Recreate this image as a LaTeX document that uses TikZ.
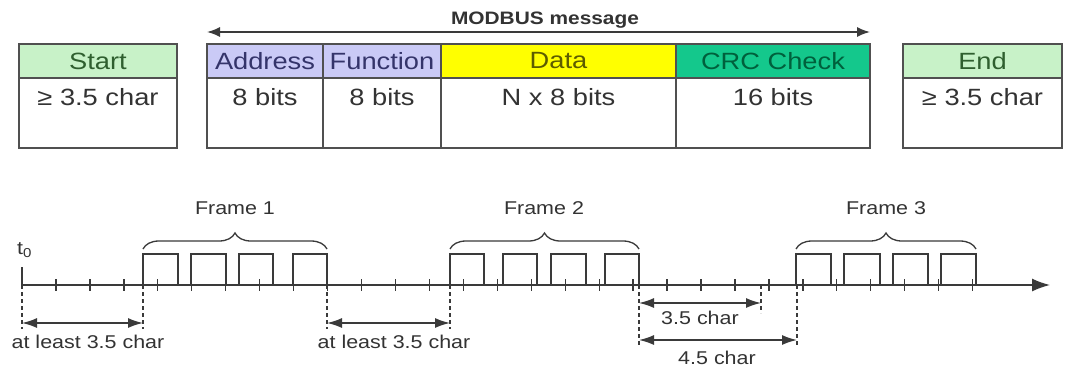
\documentclass[tikz,border=0pt]{standalone}
\usepackage{fontspec}
\setmainfont{Liberation Sans}[FakeStretch=1.16]
\usetikzlibrary{arrows.meta,decorations.pathreplacing}
\definecolor{boxgray}{HTML}{505050}
\definecolor{linegray}{HTML}{3A3A3A}
\definecolor{txt}{HTML}{333333}
\definecolor{mint}{HTML}{C8F2C8}
\definecolor{lav}{HTML}{CACAF6}
\definecolor{yel}{HTML}{FFFF00}
\definecolor{teal}{HTML}{14C88C}
\definecolor{tmint}{HTML}{2F5F2F}
\definecolor{tlav}{HTML}{34346A}
\definecolor{tyel}{HTML}{5C5C00}
\definecolor{tteal}{HTML}{00603C}
\tikzset{
  hdr/.style={draw=boxgray, line width=1.6pt, minimum height=34pt, inner sep=0pt,
    font=\fontsize{23.5}{28}\selectfont},
  bodycell/.style={draw=boxgray, line width=1.6pt, minimum height=70pt, inner sep=0pt},
  bodytxt/.style={text=txt, inner sep=0pt, font=\fontsize{23.5}{28}\selectfont},
  lbl/.style={text=txt, inner sep=0pt, font=\fontsize{18.5}{22}\selectfont},
  sig/.style={draw=linegray, line width=1.5pt},
  tick/.style={draw=linegray, line width=1.3pt},
  dashline/.style={draw=linegray, line width=1.8pt, dash pattern=on 4pt off 3pt},
  dim/.style={draw=linegray, line width=1.5pt, {Latex[length=15pt,width=10pt]}-{Latex[length=15pt,width=10pt]}},
  bracestyle/.style={draw=linegray, line width=1.3pt,
    decorate, decoration={brace, amplitude=16pt, aspect=0.5}}
}
\begin{document}
\begin{tikzpicture}[x=1pt,y=-1pt]
\useasboundingbox (0,0) rectangle (1070,372);
\fill[white] (0,0) rectangle (1070,372);

% ---- top frame format ----
\node[hdr, fill=mint, text=tmint, minimum width=158pt] (startH) at (98,61) {Start};
\node[bodycell, minimum width=158pt] (startB) at (98,113) {};
\node[bodytxt] (startT) at (98,97) {≥ 3.5 char};

\node[hdr, fill=lav, text=tlav, minimum width=116pt] (addrH) at (265,61) {Address};
\node[bodycell, minimum width=116pt] (addrB) at (265,113) {};
\node[bodytxt] (addrT) at (265,97) {8 bits};

\node[hdr, fill=lav, text=tlav, minimum width=118pt] (funcH) at (382,61) {Function};
\node[bodycell, minimum width=118pt] (funcB) at (382,113) {};
\node[bodytxt] (funcT) at (382,97) {8 bits};

\node[hdr, fill=yel, text=tyel, minimum width=235pt] (dataH) at (558.5,61) {Data};
\node[bodycell, minimum width=235pt] (dataB) at (558.5,113) {};
\node[bodytxt] (dataT) at (558.5,97) {N x 8 bits};

\node[hdr, fill=teal, text=tteal, minimum width=194pt] (crcH) at (773,61) {CRC Check};
\node[bodycell, minimum width=194pt] (crcB) at (773,113) {};
\node[bodytxt] (crcT) at (773,97) {16 bits};

\node[hdr, fill=mint, text=tmint, minimum width=159pt] (endH) at (982.5,61) {End};
\node[bodycell, minimum width=159pt] (endB) at (982.5,113) {};
\node[bodytxt] (endT) at (982.5,97) {≥ 3.5 char};

\coordinate (msgL) at (207,32);
\coordinate (msgR) at (870,32);
\draw[draw=linegray, line width=1.6pt, {Latex[length=13pt,width=10pt]}-{Latex[length=13pt,width=10pt]}] (msgL) -- (msgR);
\node[text=txt, inner sep=0pt, font=\bfseries\fontsize{18}{22}\selectfont] (msg) at (545,20) {MODBUS message};

% ---- timeline ----
\coordinate (t0) at (22,285);
\coordinate (t0top) at (22,267);
\coordinate (axend) at (1050,285);
\draw[sig] (t0top) -- (t0);
\draw[sig, -{Latex[length=18pt,width=13pt]}] (t0) -- (axend);
\node[lbl, anchor=south west] (t0lbl) at (17,258) {t\textsubscript{0}};

\foreach \k in {1,...,28} {
  \draw[tick] ({22+33.95*\k},279) -- ({22+33.95*\k},291);
}

% pulses
\foreach \a/\b in {143/178,191/226,239/273,293/327,
                   450/484,503/537,551/586,605/639,
                   796/831,844/880,893/928,941/976} {
  \draw[sig] (\a,285) -- (\a,254) -- (\b,254) -- (\b,285);
}

% braces and frame labels
\draw[bracestyle] (143,249) -- (327,249);
\draw[bracestyle] (450,249) -- (639,249);
\draw[bracestyle] (796,249) -- (976,249);
\node[lbl] (f1) at (235,208) {Frame 1};
\node[lbl] (f2) at (544,208) {Frame 2};
\node[lbl] (f3) at (886,208) {Frame 3};

% dashed guide lines
\draw[dashline] (22,285) -- (22,329);
\draw[dashline] (143,285) -- (143,329);
\draw[dashline] (327,285) -- (327,329);
\draw[dashline] (450,285) -- (450,329);
\draw[dashline] (639,285) -- (639,346);
\draw[dashline] (761,285) -- (761,313);
\draw[dashline] (797,285) -- (797,346);

% dimension arrows
\coordinate (g1l) at (22,323);  \coordinate (g1r) at (143,323);
\coordinate (g2l) at (327,323); \coordinate (g2r) at (450,323);
\coordinate (g3l) at (639,303); \coordinate (g3r) at (761,303);
\coordinate (g4l) at (639,340); \coordinate (g4r) at (797,340);
\draw[dim] (g1l) -- (g1r);
\draw[dim] (g2l) -- (g2r);
\draw[dim] (g3l) -- (g3r);
\draw[dim] (g4l) -- (g4r);
\node[lbl] (l1) at (88,342) {at least 3.5 char};
\node[lbl] (l2) at (394,342) {at least 3.5 char};
\node[lbl] (l3) at (700,318) {3.5 char};
\node[lbl] (l4) at (717,358) {4.5 char};
\end{tikzpicture}
\end{document}
